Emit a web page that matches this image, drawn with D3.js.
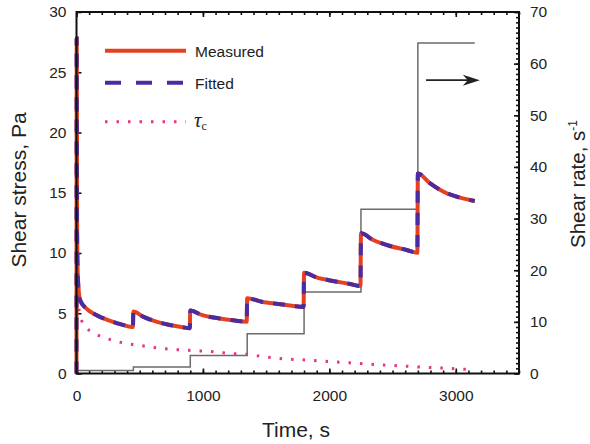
<!DOCTYPE html>
<html>
<head>
<meta charset="utf-8">
<script src="https://cdn.jsdelivr.net/npm/d3@7"></script>
<style>
  body { margin: 0; background: #fff; }
  svg { display: block; font-family: "Liberation Sans", Arial, sans-serif; }
  .tick text { font-size: 15.5px; fill: #222; }
  .tick line { stroke: #111; stroke-width: 1.6; }
</style>
</head>
<body>
<script>
const width = 590
const height = 444

// Time, s  vs shear stress, Pa
const measured = [
  [0, 0], [2, 27.8], [5, 12], [9, 8.6], [15, 7.2], [28, 6.1], [77, 5.4], [156, 4.86],
  [261, 4.39], [367, 4.03], [446, 3.85],
  [450, 5.14], [526, 4.72], [631, 4.3], [737, 4.03], [842, 3.84], [896, 3.76],
  [900, 5.22], [990, 4.86], [1122, 4.58], [1254, 4.39], [1346, 4.3],
  [1350, 6.24], [1465, 5.96], [1597, 5.77], [1703, 5.63], [1796, 5.52],
  [1800, 8.37], [1898, 7.98], [2030, 7.68], [2163, 7.43], [2246, 7.26],
  [2250, 11.63], [2347, 11.08], [2480, 10.58], [2612, 10.25], [2696, 10.02],
  [2700, 16.6], [2797, 15.78], [2903, 15.09], [3034, 14.59], [3150, 14.32]
]
const fitted = [
  [0, 0], [1, 27.8], [4, 12.5], [8, 9], [15, 7.1], [28, 6.1], [77, 5.4], [156, 4.86],
  [261, 4.39], [367, 4.03], [446, 3.85],
  [450, 5.14], [526, 4.72], [631, 4.3], [737, 4.03], [842, 3.84], [896, 3.76],
  [900, 5.22], [990, 4.86], [1122, 4.58], [1254, 4.39], [1346, 4.3],
  [1350, 6.24], [1465, 5.96], [1597, 5.77], [1703, 5.63], [1796, 5.52],
  [1800, 8.37], [1898, 7.98], [2030, 7.68], [2163, 7.43], [2246, 7.26],
  [2250, 11.63], [2347, 11.08], [2480, 10.58], [2612, 10.25], [2696, 10.02],
  [2700, 16.6], [2797, 15.78], [2903, 15.09], [3034, 14.59], [3150, 14.32]
]
const tauC = [
  [0, 0], [2, 27.5], [6, 10], [14, 5.8], [28, 4.9], [54, 4.1], [133, 3.39], [212, 3.0],
  [305, 2.7], [384, 2.5], [476, 2.37], [569, 2.22], [661, 2.09], [753, 2.0], [846, 1.95],
  [938, 1.89], [1026, 1.85], [1122, 1.76], [1201, 1.68], [1386, 1.54], [1478, 1.4],
  [1571, 1.28], [1663, 1.2], [1755, 1.15], [1847, 1.1], [2019, 0.98], [2217, 0.85],
  [2401, 0.72], [2584, 0.62], [2769, 0.51], [2955, 0.42], [3150, 0.3]
]

// Shear rate steps, s^-1 (right axis)
const stepTimes = [0, 450, 900, 1350, 1800, 2250, 2700, 3150]
const stepRates = [0.6, 1.25, 3.5, 7.7, 15.8, 31.8, 64]

const xTicks = [0, 1000, 2000, 3000]
const leftTicks = [0, 5, 10, 15, 20, 25, 30]
const rightTicks = [0, 10, 20, 30, 40, 50, 60, 70]
const legendItems = ['Measured', 'Fitted', 'tau']

const svg = d3.select('body').append('svg')
  .attr('width', width)
  .attr('height', height)

const x = d3.scaleLinear().domain([0, 3500]).range([76.5, 519])
const yL = d3.scaleLinear().domain([0, 30]).range([373.5, 12])
const yR = d3.scaleLinear().domain([0, 70]).range([373.5, 12])

// minor ticks first, major ticks on top
function minorAxis(axis, values) {
  return axis.tickValues(values).tickSize(-3).tickFormat('')
}
svg.append('g').attr('transform', `translate(0,${yL(0)})`)
  .call(minorAxis(d3.axisBottom(x), d3.range(0, 3501, 100)))
svg.append('g').attr('transform', `translate(0,${yL(30)})`)
  .call(minorAxis(d3.axisTop(x), d3.range(0, 3501, 100)))
svg.append('g').attr('transform', `translate(${x(3500)},0)`)
  .call(minorAxis(d3.axisRight(yR), d3.range(0, 71, 1)))

svg.append('g').attr('transform', `translate(0,${yL(0)})`)
  .call(d3.axisBottom(x).tickValues(xTicks).tickSize(-5).tickPadding(16).tickFormat(d3.format('d')))
svg.append('g').attr('transform', `translate(0,${yL(30)})`)
  .call(d3.axisTop(x).tickValues(xTicks).tickSize(-5).tickFormat(''))
svg.append('g').attr('transform', `translate(${x(0)},0)`)
  .call(d3.axisLeft(yL).tickValues(leftTicks).tickSize(-5).tickPadding(10))
svg.append('g').attr('transform', `translate(${x(3500)},0)`)
  .call(d3.axisRight(yR).tickValues(rightTicks).tickSize(-5).tickPadding(11))

svg.selectAll('.domain').remove()

// shear-rate staircase
const stepPts = [[0, 0]]
stepRates.forEach((r, i) => {
  stepPts.push([stepTimes[i], r], [stepTimes[i + 1], r])
})
svg.append('path')
  .attr('d', d3.line().x(d => x(d[0])).y(d => yR(d[1]))(stepPts))
  .attr('fill', 'none').attr('stroke', '#6b6b6b').attr('stroke-width', 1.5)

const stressLine = d3.line()
  .x(d => x(d[0])).y(d => yL(d[1]))
  .curve(d3.curveMonotoneX)

const styles = {
  Measured: { stroke: '#e5401f', width: 4, dash: null },
  Fitted: { stroke: '#4a2ba0', width: 4, dash: '12,10' },
  tau: { stroke: '#e8338a', width: 3, dash: '2.5,9' }
}

function styled(sel, s) {
  return sel.attr('fill', 'none')
    .attr('stroke', s.stroke)
    .attr('stroke-width', s.width)
    .attr('stroke-dasharray', s.dash)
}

styled(svg.append('path').attr('d', stressLine(tauC)), styles.tau)
styled(svg.append('path').attr('d', stressLine(measured)), styles.Measured)
styled(svg.append('path').attr('d', stressLine(fitted)), styles.Fitted)

// frame
svg.append('rect')
  .attr('x', x(0)).attr('y', yL(30))
  .attr('width', x(3500) - x(0)).attr('height', yL(0) - yL(30))
  .attr('fill', 'none').attr('stroke', '#111').attr('stroke-width', 2)

// arrow pointing to the right axis
const arrowRate = 56.8
const ax0 = x(2765), ax1 = x(3190), ay = yR(arrowRate)
svg.append('line')
  .attr('x1', ax0).attr('x2', ax1 - 8).attr('y1', ay).attr('y2', ay)
  .attr('stroke', '#222').attr('stroke-width', 1.6)
svg.append('path')
  .attr('d', `M${ax1},${ay} L${ax1 - 17},${ay - 5.5} L${ax1 - 12},${ay} L${ax1 - 17},${ay + 5.5} Z`)
  .attr('fill', '#222')

// legend
const legend = svg.append('g')
const legendY = [50.7, 82.7, 121.7]
legendItems.forEach((k, i) => {
  const dash = k === 'Fitted' ? '16,15' : k === 'tau' ? '2.5,9' : null
  styled(legend.append('line')
    .attr('x1', 105).attr('x2', 186)
    .attr('y1', legendY[i]).attr('y2', legendY[i]), styles[k])
    .attr('stroke-dasharray', dash)
  if (k !== 'tau') {
    legend.append('text')
      .attr('x', 195).attr('y', legendY[i] + 5.8)
      .attr('font-size', 15.5).attr('fill', '#222')
      .text(k)
  } else {
    const t = legend.append('text')
      .attr('x', 194).attr('y', legendY[i] + 5.5)
      .attr('fill', '#222')
      .style('font-family', '"Liberation Serif", "DejaVu Serif", serif')
    t.append('tspan').attr('font-size', 21).attr('font-style', 'italic').text('τ')
    t.append('tspan').attr('font-size', 12).attr('dy', 3).text('c')
  }
})

// axis titles
svg.append('text')
  .attr('transform', `translate(26,190) rotate(-90)`)
  .attr('text-anchor', 'middle').attr('font-size', 21).attr('fill', '#222')
  .text('Shear stress, Pa')

const rt = svg.append('text')
  .attr('transform', `translate(585,184) rotate(-90)`)
  .attr('text-anchor', 'middle').attr('font-size', 20.5).attr('fill', '#222')
rt.append('tspan').text('Shear rate, s')
rt.append('tspan').attr('font-size', 12).attr('dy', -8).text('-1')

svg.append('text')
  .attr('x', 296).attr('y', 436.5)
  .attr('text-anchor', 'middle').attr('font-size', 21).attr('fill', '#222')
  .text('Time, s')
</script>
</body>
</html>
